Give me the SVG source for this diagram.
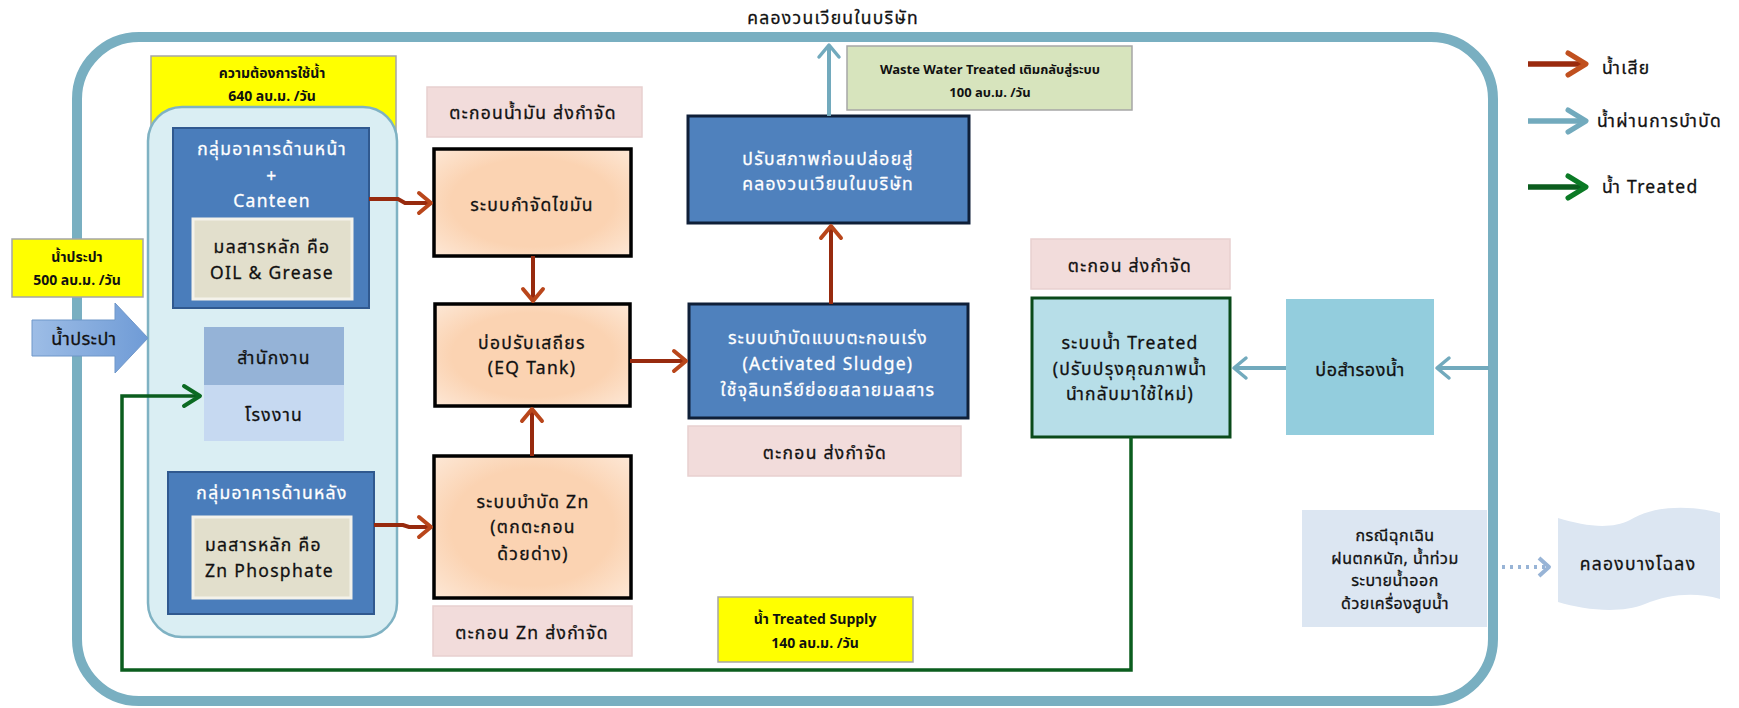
<svg xmlns="http://www.w3.org/2000/svg" width="1739" height="708" viewBox="0 0 1739 708">
<style>
text{font-family:Tahoma,"Noto Sans Thai","Noto Sans","DejaVu Sans",sans-serif;text-anchor:middle;fill:#111;}
.t{font-size:17.5px;letter-spacing:1.3px;stroke:#111;stroke-width:0.3px;}
.t18{font-size:18px;letter-spacing:0.5px;stroke:#111;stroke-width:0.3px;}
.e{font-size:16px;letter-spacing:0.5px;stroke:#111;stroke-width:0.3px;}
.s13{font-size:14px;font-weight:bold;}
.w{fill:#fff;stroke:#fff;}
.st{text-anchor:start;}
.peach{fill:url(#gp);stroke:#000;stroke-width:3.5;}
.pink{fill:#f2dcdb;stroke:#e8d0cf;stroke-width:1.5;}
.dblue{fill:#4f81bd;stroke:#0f1f38;stroke-width:3;}
.gblue{fill:#4a7dbb;stroke:#30598f;stroke-width:2;}
.beige{fill:#e2dfcc;stroke:#f4f2ea;stroke-width:3;}
.yel{fill:#ffff00;stroke:#a6a6a6;stroke-width:1.5;}
.red{fill:none;stroke:#972a0e;stroke-width:4;}
.lb{fill:none;stroke:#72aabd;stroke-width:4;}
.grn{fill:none;stroke:#0b5d1e;stroke-width:3.5;}
</style>
<defs>
<radialGradient id="gp" cx="0.5" cy="0.5" r="0.75"><stop offset="0.55" stop-color="#fbd3b2"/><stop offset="1" stop-color="#fdebdc"/></radialGradient>
<marker id="mr" markerUnits="userSpaceOnUse" markerWidth="24" markerHeight="28" viewBox="-18 -14 24 28" refX="0" refY="0" orient="auto"><path d="M-12,-10 L0,0 L-12,10" fill="none" stroke="#b9461b" stroke-width="4" stroke-linecap="round" stroke-linejoin="round"/></marker>
<marker id="mb" markerUnits="userSpaceOnUse" markerWidth="24" markerHeight="28" viewBox="-18 -14 24 28" refX="0" refY="0" orient="auto"><path d="M-12,-10 L0,0 L-12,10" fill="none" stroke="#72aabd" stroke-width="3.5" stroke-linecap="round" stroke-linejoin="round"/></marker>
<marker id="mg" markerUnits="userSpaceOnUse" markerWidth="26" markerHeight="28" viewBox="-20 -14 26 28" refX="0" refY="0" orient="auto"><path d="M-16,-10 L0,0 L-16,10" fill="none" stroke="#0b6a22" stroke-width="4" stroke-linecap="round" stroke-linejoin="round"/></marker>
<marker id="md" markerUnits="userSpaceOnUse" markerWidth="24" markerHeight="28" viewBox="-18 -14 24 28" refX="0" refY="0" orient="auto"><path d="M-10,-9 L0,0 L-10,9" fill="none" stroke="#98b4d6" stroke-width="4" stroke-linejoin="round"/></marker>
<marker id="Lr" markerUnits="userSpaceOnUse" markerWidth="30" markerHeight="32" viewBox="-24 -16 30 32" refX="0" refY="0" orient="auto"><path d="M-18,-11 L0,0 L-18,11" fill="none" stroke="#c0501f" stroke-width="5" stroke-linecap="round" stroke-linejoin="round"/></marker>
<marker id="Lb" markerUnits="userSpaceOnUse" markerWidth="30" markerHeight="32" viewBox="-24 -16 30 32" refX="0" refY="0" orient="auto"><path d="M-18,-11 L0,0 L-18,11" fill="none" stroke="#72aabd" stroke-width="5" stroke-linecap="round" stroke-linejoin="round"/></marker>
<marker id="Lg" markerUnits="userSpaceOnUse" markerWidth="30" markerHeight="32" viewBox="-24 -16 30 32" refX="0" refY="0" orient="auto"><path d="M-18,-11 L0,0 L-18,11" fill="none" stroke="#0b7a25" stroke-width="5" stroke-linecap="round" stroke-linejoin="round"/></marker>
<linearGradient id="ga" x1="0" y1="0" x2="1" y2="0"><stop offset="0" stop-color="#9dbde6"/><stop offset="1" stop-color="#6f9bd6"/></linearGradient>
</defs>
<rect width="1739" height="708" fill="#fff"/>

<g id="boundary">
<rect x="77" y="37" width="1416" height="664" rx="62" fill="none" stroke="#79afc1" stroke-width="10"/>
<text class="t" x="833" y="24">คลองวนเวียนในบริษัท</text>
</g>

<g id="demand">
<rect class="yel" x="151" y="56" width="245" height="90"/>
<text class="s13" x="272" y="78">ความต้องการใช้น้ำ</text>
<text class="s13" x="272" y="101">640 ลบ.ม. /วัน</text>
<rect x="148" y="107" width="249" height="530" rx="34" fill="#daeef3" stroke="#7fb2c3" stroke-width="2.5"/>
</g>

<g id="front">
<rect class="gblue" x="173" y="128" width="196" height="180"/>
<text class="t w" x="272" y="155">กลุ่มอาคารด้านหน้า</text>
<text class="t w" x="272" y="182">+</text>
<text class="t w" x="272" y="207">Canteen</text>
<rect class="beige" x="193" y="219" width="159" height="80"/>
<text class="t" x="272" y="253">มลสารหลัก  คือ</text>
<text class="t" x="272" y="279">OIL &amp; Grease</text>
</g>

<g id="office">
<rect x="204" y="327" width="140" height="58" fill="#95b3d7"/>
<text class="t" x="274" y="364">สำนักงาน</text>
</g>
<g id="factory">
<rect x="204" y="385" width="140" height="56" fill="#c6d9f1"/>
<text class="t" x="274" y="421">โรงงาน</text>
</g>

<g id="back">
<rect class="gblue" x="168" y="472" width="206" height="142"/>
<text class="t w" x="272" y="499">กลุ่มอาคารด้านหลัง</text>
<rect class="beige" x="193" y="517" width="158" height="81"/>
<text class="t st" x="205" y="551">มลสารหลัก  คือ</text>
<text class="t st" x="205" y="577">Zn Phosphate</text>
</g>

<g id="tap">
<rect class="yel" x="12" y="239" width="131" height="58"/>
<text class="s13" x="77" y="262">น้ำประปา</text>
<text class="s13" x="77" y="285">500 ลบ.ม. /วัน</text>
<polygon points="32,320 115,320 115,303 148,338 115,373 115,356 32,356" fill="url(#ga)" stroke="#6f97c9" stroke-width="1"/>
<text class="t18" x="84" y="345">น้ำประปา</text>
</g>

<g id="oilsludge">
<rect class="pink" x="427" y="87" width="215" height="50"/>
<text class="t" x="533" y="119">ตะกอนน้ำมัน  ส่งกำจัด</text>
</g>
<g id="grease">
<rect class="peach" x="434" y="149" width="197" height="107"/>
<text class="t" x="532" y="211">ระบบกำจัดไขมัน</text>
</g>
<g id="eq">
<rect class="peach" x="435" y="304" width="195" height="102"/>
<text class="t" x="532" y="349">บ่อปรับเสถียร</text>
<text class="t" x="532" y="374">(EQ Tank)</text>
</g>
<g id="zn">
<rect class="peach" x="434" y="456" width="197" height="142"/>
<text class="t" x="533" y="508">ระบบบำบัด  Zn</text>
<text class="t" x="533" y="533">(ตกตะกอน</text>
<text class="t" x="533" y="560">ด้วยด่าง)</text>
</g>
<g id="znsludge">
<rect class="pink" x="433" y="606" width="199" height="50"/>
<text class="t" x="532" y="639">ตะกอน  Zn ส่งกำจัด</text>
</g>

<g id="as">
<rect class="dblue" x="689" y="304" width="279" height="114"/>
<text class="t w" x="828" y="344">ระบบบำบัดแบบตะกอนเร่ง</text>
<text class="t w" x="828" y="370">(Activated Sludge)</text>
<text class="t w" x="828" y="396">ใช้จุลินทรีย์ย่อยสลายมลสาร</text>
</g>
<g id="assludge">
<rect class="pink" x="688" y="426" width="273" height="50"/>
<text class="t" x="825" y="459">ตะกอน  ส่งกำจัด</text>
</g>
<g id="condition">
<rect class="dblue" x="688" y="116" width="281" height="107"/>
<text class="t w" x="828" y="165">ปรับสภาพก่อนปล่อยสู่</text>
<text class="t w" x="828" y="190">คลองวนเวียนในบริษัท</text>
</g>
<g id="wwt">
<rect x="847" y="46" width="285" height="64" fill="#d7e4bd" stroke="#a6a6a6" stroke-width="1.5"/>
<text class="s13" x="990" y="74" style="font-size:13px">Waste Water Treated  เติมกลับสู่ระบบ</text>
<text class="s13" x="990" y="97" style="font-size:13px">100  ลบ.ม. /วัน</text>
</g>
<g id="supply">
<rect class="yel" x="718" y="597" width="195" height="65"/>
<text class="s13" x="815" y="624">น้ำ Treated Supply</text>
<text class="s13" x="815" y="648">140  ลบ.ม. /วัน</text>
</g>

<g id="rsludge">
<rect class="pink" x="1031" y="239" width="199" height="50"/>
<text class="t" x="1130" y="272">ตะกอน  ส่งกำจัด</text>
</g>
<g id="treated">
<rect x="1032" y="298" width="198" height="139" fill="#b7dee8" stroke="#0a4a1a" stroke-width="3"/>
<text class="t" x="1130" y="349">ระบบน้ำ  Treated</text>
<text class="t" x="1130" y="375">(ปรับปรุงคุณภาพน้ำ</text>
<text class="t" x="1130" y="400">นำกลับมาใช้ใหม่)</text>
</g>
<g id="reserve">
<rect x="1286" y="299" width="148" height="136" fill="#93cddd"/>
<text class="t18" x="1360" y="376">บ่อสำรองน้ำ</text>
</g>
<g id="emergency">
<rect x="1302" y="510" width="185" height="117" fill="#dce6f2"/>
<text class="e" x="1395" y="541">กรณีฉุกเฉิน</text>
<text class="e" x="1395" y="564">ฝนตกหนัก,  น้ำท่วม</text>
<text class="e" x="1395" y="586">ระบายน้ำออก</text>
<text class="e" x="1395" y="609">ด้วยเครื่องสูบน้ำ</text>
</g>
<g id="canal">
<path d="M1558,518 C1585,526 1610,530 1630,520 C1655,505 1690,505 1720,513 L1720,599 C1695,592 1670,594 1645,604 C1620,614 1585,610 1558,602 Z" fill="#dce6f2"/>
<text class="t" x="1638" y="570">คลองบางโฉลง</text>
</g>

<g id="legend">
<path d="M1528,64 L1586,64" fill="none" stroke="#9a2a0e" stroke-width="5.5" marker-end="url(#Lr)"/>
<text class="t st" x="1602" y="74">น้ำเสีย</text>
<path d="M1528,121 L1586,121" fill="none" stroke="#72aabd" stroke-width="5.5" marker-end="url(#Lb)"/>
<text class="t st" x="1597" y="127">น้ำผ่านการบำบัด</text>
<path d="M1528,187 L1586,187" fill="none" stroke="#0b5d1e" stroke-width="5.5" marker-end="url(#Lg)"/>
<text class="t st" x="1602" y="193">น้ำ  Treated</text>
</g>

<g id="connectors">
<path class="red" d="M369,199 L398,199 L405,203 L431,203" marker-end="url(#mr)"/>
<path class="red" d="M374,525 L403,525 L409,527 L431,527" marker-end="url(#mr)"/>
<path class="red" d="M533,256 L533,301" marker-end="url(#mr)"/>
<path class="red" d="M532,456 L532,409" marker-end="url(#mr)"/>
<path class="red" d="M630,361 L686,361" marker-end="url(#mr)"/>
<path class="red" d="M831,304 L831,226" marker-end="url(#mr)"/>
<path class="lb" d="M829,116 L829,45" marker-end="url(#mb)"/>
<path class="lb" d="M1489,368 L1437,368" marker-end="url(#mb)"/>
<path class="lb" d="M1286,368 L1234,368" marker-end="url(#mb)"/>
<path class="grn" d="M1131,437 L1131,670 L122,670 L122,396 L200,396" marker-end="url(#mg)"/>
<path d="M1502,567 L1549,567" fill="none" stroke="#98b4d6" stroke-width="4" stroke-dasharray="3 5" marker-end="url(#md)"/>
</g>
</svg>
